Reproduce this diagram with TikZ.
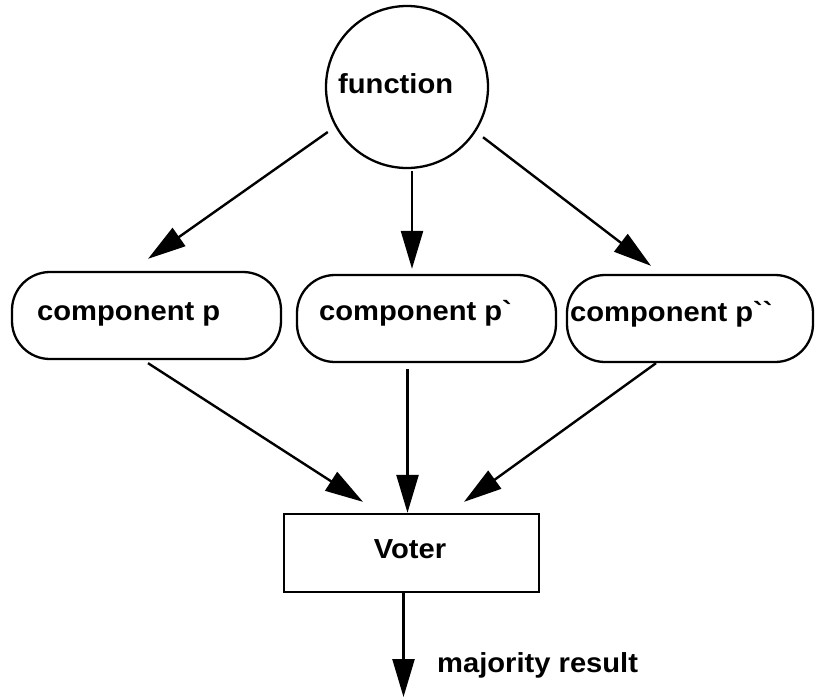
\documentclass[tikz,border=0pt]{standalone}
\usepackage{fontspec}
\newfontfamily\diagfont{Liberation Sans}[FakeStretch=1.06]
\usetikzlibrary{arrows.meta}
\begin{document}
\begin{tikzpicture}[x=1pt,y=-1pt,
  every node/.style={font=\diagfont\fontsize{27.5}{30}\selectfont\bfseries},
  shapeline/.style={draw=black,line width=2.3pt},
  funcshape/.style={shapeline,circle,minimum size=162pt,inner sep=0pt},
  compbox/.style={shapeline,rectangle,rounded corners=38pt,minimum height=87pt,inner sep=0pt},
  voterbox/.style={shapeline,rectangle,minimum width=255pt,minimum height=78pt,inner sep=0pt},
  lbl/.style={inner sep=0pt,anchor=mid west},
  conn/.style={line width=2.4pt,-{Triangle[length=38pt,width=22pt]}}
]
\useasboundingbox (0,0) rectangle (816,697);
% shapes
\node[funcshape] (func) at (407,87) {};
\node[compbox,minimum width=269pt] (box1) at (146.5,315.5) {};
\node[compbox,minimum width=259pt] (box2) at (426.5,318.5) {};
\node[compbox,minimum width=246pt] (box3) at (690,318.5) {};
\node[voterbox] (voter) at (411.5,553) {};
% texts
\node[lbl] (tfunc) at (338,91) {function};
\node[lbl] (t1) at (37,318) {component p};
\node[lbl] (t2) at (319,318) {component p`};
\node[lbl] (t3) at (570,319) {component p``};
\node[inner sep=0pt] (tvoter) at (410,549) {Voter};
\node[lbl] (tres) at (437,670) {majority result};
\coordinate (out) at (403.5,697);
% connectors
\draw[conn,shorten <=9pt] (func.209) -- ([xshift=1.5pt,yshift=12pt]box1.north);
\draw[conn] ([xshift=5pt,yshift=-2pt]func.south) -- ([xshift=-14.5pt,yshift=5pt]box2.north);
\draw[conn,shorten <=9pt] (func.327) -- ([xshift=-39pt,yshift=8pt]box3.north);
\draw[conn] ([xshift=1.5pt,yshift=-3pt]box1.south) -- ([xshift=-48.5pt,yshift=11pt]voter.north);
\draw[conn] ([xshift=-19pt,yshift=-6pt]box2.south) -- ([xshift=-4pt]voter.north);
\draw[conn] ([xshift=-34pt]box3.south) -- ([xshift=52.5pt,yshift=11pt]voter.north);
\draw[conn] ([xshift=-8pt]voter.south) -- (out);
\end{tikzpicture}
\end{document}
